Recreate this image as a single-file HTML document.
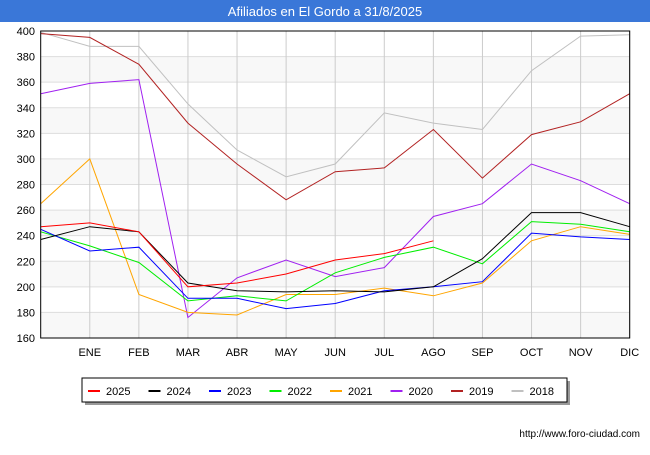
<!DOCTYPE html>
<html><head><meta charset="utf-8"><style>
body{margin:0;width:650px;height:450px;background:#fff;font-family:"Liberation Sans",sans-serif;overflow:hidden}
</style></head><body>
<svg width="650" height="450" xmlns="http://www.w3.org/2000/svg" id="chart">
<rect x="0" y="0" width="650" height="22" fill="#3a77d8"/>
<text x="325" y="16" text-anchor="middle" font-size="13" fill="#fff">Afiliados en El Gordo a 31/8/2025</text>
<g id="grid"></g>
<g id="series"></g>
<rect x="40.7" y="31" width="589" height="307" fill="none" stroke="#000" stroke-width="1"/>
<g id="axes"></g>
<rect x="85" y="381" width="485" height="24" fill="#999"/>
<rect x="82" y="378" width="485" height="24" fill="#fff" stroke="#000"/>
<g id="legend"></g>
<text x="640" y="437" text-anchor="end" font-size="10" fill="#000">http://www.foro-ciudad.com</text>
</svg>
<script>
const months=["","ENE","FEB","MAR","ABR","MAY","JUN","JUL","AGO","SEP","OCT","NOV","DIC"];
const yTicks=[160,180,200,220,240,260,280,300,320,340,360,380,400];
const seriesNames=["2025","2024","2023","2022","2021","2020","2019","2018"];
const seriesColors=["#ff0000","#000000","#0000ff","#00ee00","#ffa500","#a020f0","#b22222","#c0c0c0"];
const s2025=[247,250,243,200,203,210,221,226,236];
const s2024=[237,247,243,203,197,196,197,196,200,222,258,258,247];
const s2023=[245,228,231,191,191,183,187,197,200,204,242,239,237];
const s2022=[243,232,219,189,193,189,211,223,231,218,251,249,243];
const s2021=[265,300,194,180,178,194,194,199,193,203,236,247,241];
const s2020=[351,359,362,176,207,221,208,215,255,265,296,283,265];
const s2019=[398,395,374,328,296,268,290,293,323,285,319,329,351];
const s2018=[399,388,388,343,307,286,296,336,328,323,369,396,397];
const allSeries=[s2025,s2024,s2023,s2022,s2021,s2020,s2019,s2018];
const NS="http://www.w3.org/2000/svg";
const X0=40.7,X1=629.7,Y0=338,Y1=31;
const xs=i=>X0+(X1-X0)*i/12;
const ys=v=>Y0-(v-160)/240*(Y0-Y1);
function mk(t,a,p){const e=document.createElementNS(NS,t);for(const k in a)e.setAttribute(k,a[k]);p.appendChild(e);return e;}
const grid=document.getElementById('grid'),axes=document.getElementById('axes');
for(let i=0;i<yTicks.length-1;i++){
  if(i%2===0){const r=mk('rect',{x:X0,y:ys(yTicks[i+1]),width:X1-X0,height:ys(yTicks[i])-ys(yTicks[i+1]),fill:'#f8f8f8'},grid);
  
  }
}
yTicks.forEach(v=>{
  const l=mk('line',{x1:X0,x2:X1,y1:ys(v),y2:ys(v),stroke:'#ddd'},grid);
  
  
  const t=mk('text',{x:35,y:ys(v)+4,'text-anchor':'end','font-size':'11',fill:'#000'},axes);
  t.textContent=v;
  
  
});
months.forEach((m,i)=>{
  if(i===0)return;
  const l=mk('line',{x1:xs(i),x2:xs(i),y1:Y1,y2:Y0,stroke:'#ccc'},grid);
  
  
  const t=mk('text',{x:xs(i),y:356,'text-anchor':'middle','font-size':'11',fill:'#000'},axes);
  t.textContent=m;
  
  
});
const sg=document.getElementById('series');
for(let k=allSeries.length-1;k>=0;k--){
  const pts=allSeries[k].map((v,i)=>xs(i).toFixed(1)+','+ys(v).toFixed(1)).join(' ');
  const p=mk('polyline',{points:pts,fill:'none',stroke:seriesColors[k],'stroke-width':'1'},sg);
  
  
}
const lg=document.getElementById('legend');
seriesNames.forEach((n,i)=>{
  const x=88+i*60.5;
  const l=mk('line',{x1:x,x2:x+12,y1:391,y2:391,stroke:seriesColors[i],'stroke-width':'2'},lg);
  
  
  const t=mk('text',{x:x+18,y:395,'font-size':'11',fill:'#000'},lg);
  t.textContent=n;
  
  
});
</script>
</body></html>
